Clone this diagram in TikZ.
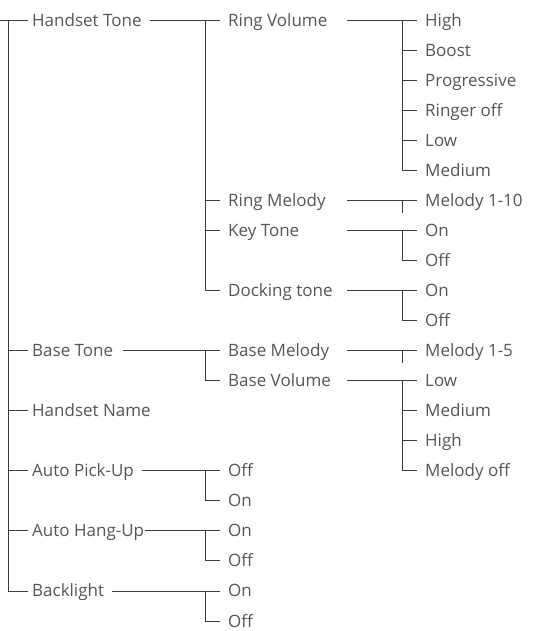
\documentclass[tikz,border=0pt]{standalone}
\usepackage{fontspec}
\usepackage{tikz}
\usetikzlibrary{calc}
\newfontfamily\menufont{Open Sans}
\definecolor{menutext}{HTML}{555555}
\definecolor{menuline}{HTML}{3C3C3C}
\tikzset{
  entry/.style={anchor=west,inner sep=0pt,text height=12pt,text depth=0pt,
    text=menutext,font=\menufont\fontsize{17}{20}\selectfont},
  branch/.style={draw=menuline,line width=0.9pt}
}

\begin{document}
\begin{tikzpicture}[x=1pt,y=-30.05pt]
  \useasboundingbox (0,-0.6656) rectangle (537,20.333);
  % columns of the tree
  \coordinate (root) at (0,0);
  \coordinate (trunk) at (8,0);
  \coordinate (col2) at (205,0);
  \coordinate (col3in) at (347,0);
  \coordinate (col3) at (402,0);
  % first level
  \node[entry] (handset) at (32,0) {Handset Tone};
  \node[entry] (base) at (32,11) {Base Tone};
  \node[entry] (name) at (32,13) {Handset Name};
  \node[entry] (pickup) at (32,15) {Auto Pick-Up};
  \node[entry] (hangup) at (32,17) {Auto Hang-Up};
  \node[entry] (backlight) at (32,19) {Backlight};
  % second level
  \node[entry] (ringvol) at (228,0) {Ring Volume};
  \node[entry] (ringmel) at (228,6) {Ring Melody};
  \node[entry] (keytone) at (228,7) {Key Tone};
  \node[entry] (docking) at (228,9) {Docking tone};
  \node[entry] (basemel) at (228,11) {Base Melody};
  \node[entry] (basevol) at (228,12) {Base Volume};
  \node[entry] (pickoff) at (228,15) {Off};
  \node[entry] (pickon) at (228,16) {On};
  \node[entry] (hangon) at (228,17) {On};
  \node[entry] (hangoff) at (228,18) {Off};
  \node[entry] (lighton) at (228,19) {On};
  \node[entry] (lightoff) at (228,20) {Off};
  % third level
  \foreach \txt [count=\i] in {High,Boost,Progressive,Ringer off,Low,Medium}
    \node[entry] (rv\i) at (425,\i-1) {\txt};
  \node[entry] (rm1) at (425,6) {Melody 1-10};
  \node[entry] (kt1) at (425,7) {On};
  \node[entry] (kt2) at (425,8) {Off};
  \node[entry] (dt1) at (425,9) {On};
  \node[entry] (dt2) at (425,10) {Off};
  \node[entry] (bm1) at (425,11) {Melody 1-5};
  \foreach \txt [count=\i] in {Low,Medium,High,Melody off}
    \node[entry] (bv\i) at (425,\i+11) {\txt};

  % trunk
  \draw[branch] (root) -- ([xshift=-4pt]handset.west);
  \draw[branch] (trunk) |- ([xshift=-4pt]backlight.west);
  \foreach \n in {base,name,pickup,hangup}
    \draw[branch] (\n.west -| trunk) -- ([xshift=-4pt]\n.west);

  % second level branches
  \draw[branch] ([xshift=8pt]handset.east) -- ([xshift=-8pt]ringvol.west);
  \draw[branch] (ringvol.west -| col2) |- ([xshift=-8pt]docking.west);
  \foreach \n in {ringmel,keytone}
    \draw[branch] (\n.west -| col2) -- ([xshift=-8pt]\n.west);
  \draw[branch] ([xshift=10pt]base.east) -- ([xshift=-8pt]basemel.west);
  \draw[branch] (basemel.west -| col2) |- ([xshift=-8pt]basevol.west);
  \draw[branch] ([xshift=8pt]pickup.east) -- ([xshift=-8pt]pickoff.west);
  \draw[branch] (pickoff.west -| col2) |- ([xshift=-8pt]pickon.west);
  \draw[branch] ([xshift=1pt]hangup.east) -- ([xshift=-8pt]hangon.west);
  \draw[branch] (hangon.west -| col2) |- ([xshift=-8pt]hangoff.west);
  \draw[branch] ([xshift=8pt]backlight.east) -- ([xshift=-8pt]lighton.west);
  \draw[branch] (lighton.west -| col2) |- ([xshift=-8pt]lightoff.west);

  % third level branches
  \draw[branch] (ringvol.west -| col3in) -- ([xshift=-8pt]rv1.west);
  \draw[branch] (rv1.west -| col3) |- ([xshift=-8pt]rv6.west);
  \foreach \i in {2,...,5}
    \draw[branch] (rv\i.west -| col3) -- ([xshift=-8pt]rv\i.west);
  \draw[branch] (ringmel.west -| col3in) -- ([xshift=-8pt]rm1.west);
  \draw[branch] (rm1.west -| col3) -- ++(0,0.43);
  \draw[branch] (keytone.west -| col3in) -- ([xshift=-8pt]kt1.west);
  \draw[branch] (kt1.west -| col3) |- ([xshift=-8pt]kt2.west);
  \draw[branch] (docking.west -| col3in) -- ([xshift=-8pt]dt1.west);
  \draw[branch] (dt1.west -| col3) |- ([xshift=-8pt]dt2.west);
  \draw[branch] (basemel.west -| col3in) -- ([xshift=-8pt]bm1.west);
  \draw[branch] (bm1.west -| col3) -- ++(0,0.43);
  \draw[branch] (basevol.west -| col3in) -- ([xshift=-8pt]bv1.west);
  \draw[branch] (bv1.west -| col3) |- ([xshift=-8pt]bv4.west);
  \foreach \i in {2,3}
    \draw[branch] (bv\i.west -| col3) -- ([xshift=-8pt]bv\i.west);
\end{tikzpicture}
\end{document}
